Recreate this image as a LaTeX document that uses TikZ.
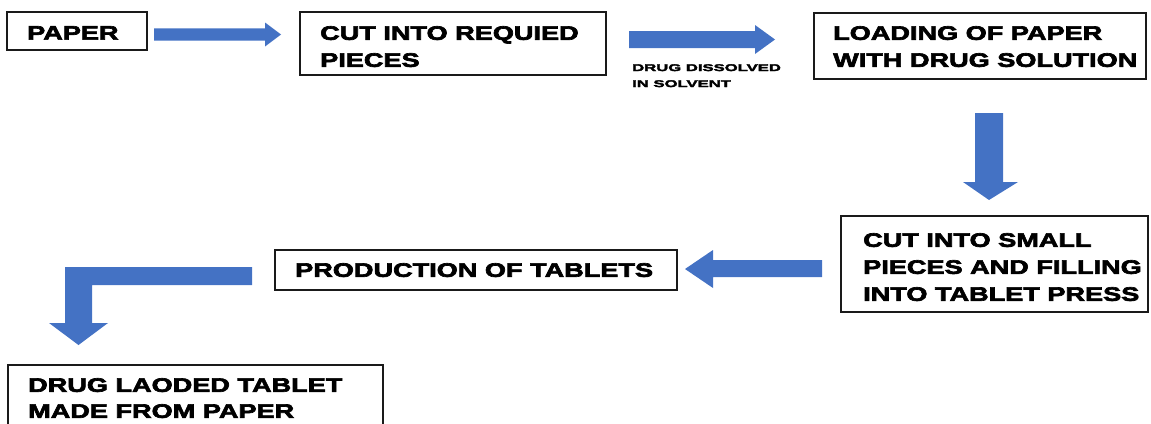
\documentclass[tikz,border=0pt]{standalone}
\usepackage{fontspec}
\newfontfamily\hv[FakeStretch=1.39,FakeBold=3.4]{Liberation Sans}
\newfontfamily\hvs[FakeStretch=1.7,FakeBold=3.4]{Liberation Sans}
\definecolor{arrblue}{HTML}{4472C4}
\definecolor{boxline}{HTML}{1A1A1A}
\tikzset{
  box/.style={draw=boxline, line width=1.4pt, fill=white},
  lbl/.style={anchor=north west, inner sep=0pt, align=left,
    font=\hv\bfseries\fontsize{19.5}{27}\selectfont},
  small/.style={anchor=north west, inner sep=0pt, align=left,
    font=\hvs\bfseries\fontsize{9.8}{16}\selectfont},
  blockarrow/.style={fill=arrblue, draw=none}
}
\begin{document}
\begin{tikzpicture}[x=1pt,y=-1pt]
\useasboundingbox (0,0) rectangle (1151,423);
\begin{scope}
\clip (0,0) rectangle (1151,423);
% boxes
\draw[box] (7,12) rectangle (147,50);
\draw[box] (300,12) rectangle (606,75);
\draw[box] (814,13) rectangle (1146,79);
\draw[box] (841,216) rectangle (1148,312);
\draw[box] (275,250) rectangle (677,290);
\draw[box] (8,365) rectangle (383,440);
% texts
\node[lbl] (paper) at (27,26) {PAPER};
\node[lbl] (cut) at (320,26) {CUT INTO REQUIED\\PIECES};
\node[lbl] (load) at (833,26) {LOADING OF PAPER\\WITH DRUG SOLUTION};
\node[lbl] (small) at (863,233) {CUT INTO SMALL\\PIECES AND FILLING\\INTO TABLET PRESS};
\node[lbl] (prod) at (295,263) {PRODUCTION OF TABLETS};
\node[lbl, font=\hv\bfseries\fontsize{19.5}{26}\selectfont] (drug) at (28,378) {DRUG LAODED TABLET\\MADE FROM PAPER};
\node[small] (dis) at (632,64) {DRUG DISSOLVED\\IN SOLVENT};
% arrows
\fill[blockarrow] (154,28.3) -- (265,28.3) -- (265,22.5) -- (281,34.5) -- (265,46.5) -- (265,40.7) -- (154,40.7) -- cycle;
\fill[blockarrow] (629,31) -- (755,31) -- (755,25) -- (775,39.5) -- (755,54) -- (755,48) -- (629,48) -- cycle;
\fill[blockarrow] (975,113) -- (1003,113) -- (1003,182) -- (1018,182) -- (989,200) -- (963,182) -- (975,182) -- cycle;
\fill[blockarrow] (822,260) -- (713,260) -- (713,250) -- (685,269) -- (713,288) -- (713,277) -- (822,277) -- cycle;
\fill[blockarrow] (252,267) -- (65,267) -- (65,323) -- (49,323) -- (78.5,345) -- (108,323) -- (92,323) -- (92,285) -- (252,285) -- cycle;
\end{scope}
\end{tikzpicture}
\end{document}
